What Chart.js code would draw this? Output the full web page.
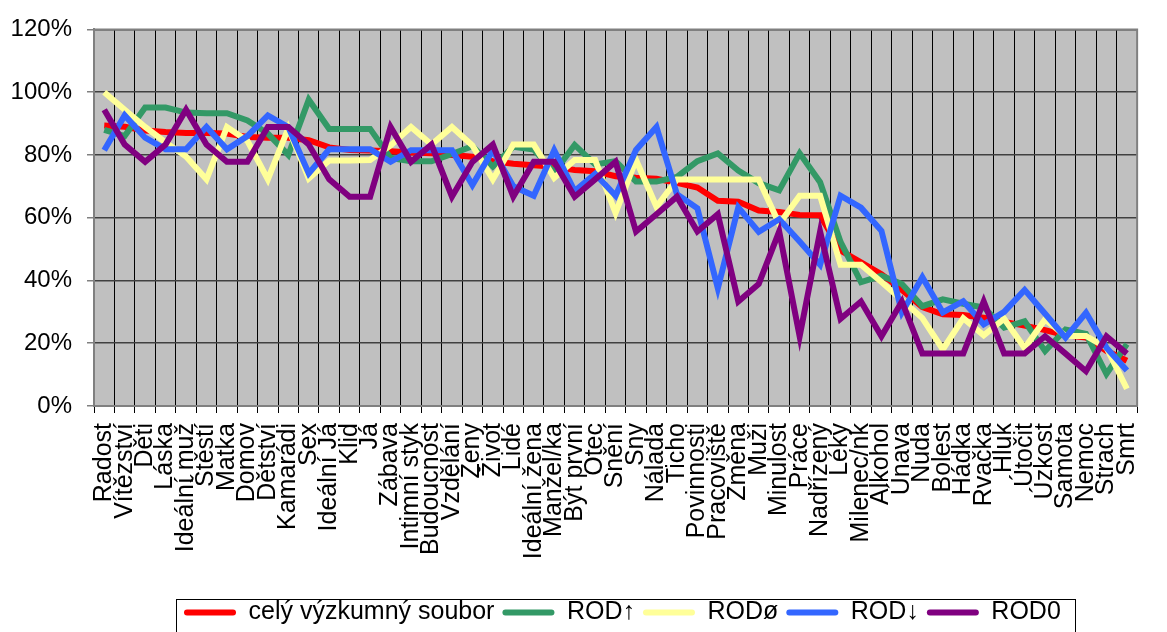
<!DOCTYPE html>
<html>
<head>
<meta charset="utf-8">
<title>ROD</title>
<script src="https://cdn.jsdelivr.net/npm/chart.js@4/dist/chart.umd.min.js"></script>
<style>
  html, body { margin: 0; padding: 0; background: #ffffff; }
  #wrap { width: 1167px; height: 632px; }
</style>
</head>
<body>
<div id="wrap"><canvas id="chart" width="1167" height="632"></canvas></div>
<script>
// Word categories along the x axis
const categories = ['Radost','Vítězství','Děti','Láska','Ideální muž','Štěstí','Matka','Domov','Dětství','Kamarádi',
  'Sex','Ideální Já','Klid','Já','Zábava','Intimní styk','Budoucnost','Vzdělání','Ženy','Život',
  'Lidé','Ideální žena','Manžel/ka','Být první','Otec','Snění','Sny','Nálada','Ticho','Povinnosti',
  'Pracoviště','Změna','Muži','Minulost','Práce','Nadřízený','Léky','Milenec/nk','Alkohol','Únava',
  'Nuda','Bolest','Hádka','Rvačka','Hluk','Útočit','Úzkost','Samota','Nemoc','Strach','Smrt'];

// Series values in percent
const celySoubor = [89.4, 89.0, 87.8, 87.3, 87.0, 87.0, 86.8, 85.7, 85.5, 85.5,
  84.7, 82.4, 81.6, 81.4, 81.2, 80.8, 80.5, 80.0, 79.4, 78.0,
  77.2, 76.7, 76.2, 75.2, 74.8, 73.2, 72.7, 72.4, 71.1, 69.6,
  65.4, 65.1, 62.3, 61.8, 60.9, 60.8, 49.5, 45.8, 42.0, 37.0,
  31.5, 29.2, 29.0, 28.1, 26.8, 25.6, 24.2, 22.5, 21.8, 17.6, 14.4];

const rodUp = [88.0, 86.0, 95.1, 95.1, 93.5, 93.3, 93.3, 91.0, 86.8, 80.0,
  97.6, 88.3, 88.3, 88.3, 79.0, 78.0, 78.0, 80.3, 82.8, 76.3,
  82.6, 81.7, 74.5, 83.2, 77.0, 78.0, 71.5, 71.5, 73.0, 78.0,
  80.5, 75.0, 71.0, 68.7, 80.5, 71.3, 52.3, 39.5, 41.5, 38.9,
  31.8, 34.0, 32.6, 31.4, 25.0, 27.0, 17.5, 24.4, 23.0, 10.2, 19.7];

const rodEq = [100, 94.4, 88.9, 84.0, 79.5, 72.2, 88.9, 84.5, 72.2, 88.5,
  72.5, 78.2, 78.2, 78.4, 83.0, 88.9, 83.3, 88.9, 83.0, 72.2,
  83.3, 83.3, 72.7, 78.4, 78.4, 61.5, 78.4, 63.5, 72.2, 72.2,
  72.2, 72.2, 72.2, 58.0, 67.0, 67.0, 45.0, 45.0, 39.5, 33.8,
  28.0, 18.0, 28.0, 22.5, 27.8, 18.5, 27.6, 22.3, 22.3, 18.6, 5.5];

const rodDown = [81.5, 92.6, 85.5, 81.8, 81.8, 88.9, 81.8, 86.0, 92.6, 88.9,
  74.1, 81.8, 81.8, 81.8, 77.8, 81.5, 81.5, 81.5, 70.4, 81.5,
  70.0, 67.0, 81.5, 68.5, 74.0, 67.0, 81.6, 88.9, 67.5, 63.0,
  37.5, 63.3, 55.5, 59.5, 52.4, 45.0, 67.0, 63.2, 55.8, 29.8,
  41.0, 29.8, 33.4, 26.0, 30.0, 37.0, 29.4, 21.8, 29.7, 18.6, 11.3];

const rod0 = [94.4, 83.3, 77.8, 83.3, 94.4, 83.3, 77.8, 77.8, 88.9, 88.9,
  83.3, 72.2, 66.7, 66.7, 88.9, 77.8, 83.3, 66.7, 77.8, 83.3,
  66.7, 77.8, 77.8, 66.7, 72.2, 77.8, 55.6, 61.1, 66.7, 55.6,
  61.1, 33.3, 38.9, 55.6, 22.2, 55.6, 27.8, 33.3, 22.2, 33.3,
  16.7, 16.7, 16.7, 33.3, 16.7, 16.7, 22.2, 16.7, 11.1, 22.2, 16.7];

const seriesNames = ['celý výzkumný soubor', 'ROD↑', 'RODø', 'ROD↓', 'ROD0'];
const yTicks = [0, 20, 40, 60, 80, 100, 120];

const FONT = '"Liberation Sans", Arial, sans-serif';
const colors = ['#ff0000', '#339966', '#ffff99', '#3366ff', '#800080'];
const seriesData = [celySoubor, rodUp, rodEq, rodDown, rod0];

// Grey plot background, frame and the boxed legend
const plotFrame = {
  id: 'plotFrame',
  afterLayout(chart) {
    const lg = chart.legend;
    if (!lg || !lg.lineWidths) return;
    const pad = lg.options.labels.padding;
    const cur = (lg.left + pad + lg.right - lg.lineWidths[0]) / 2;
    const shift = 184 - cur;
    lg.left += shift;
    lg.right += shift;
  },
  beforeDraw(chart) {
    const { ctx, chartArea: a } = chart;
    ctx.save();
    ctx.fillStyle = '#c0c0c0';
    ctx.fillRect(a.left, a.top, a.right - a.left, a.bottom - a.top);
    ctx.restore();
  },
  afterDraw(chart) {
    const { ctx, chartArea: a } = chart;
    ctx.save();
    ctx.strokeStyle = '#808080';
    ctx.lineWidth = 2;
    ctx.beginPath();
    ctx.moveTo(a.left, a.top);
    ctx.lineTo(a.right, a.top);
    ctx.lineTo(a.right, a.bottom);
    ctx.stroke();

    const lg = chart.legend;
    if (lg && lg.lineWidths) {
      const pad = lg.options.labels.padding;
      const start = (lg.left + pad + lg.right - lg.lineWidths[0]) / 2;
      const right = start + lg.lineWidths[0] - pad + 14;
      const left = start - 8;
      const itemH = Math.max(lg.options.labels.font.size, lg.options.labels.boxHeight);
      const centerY = lg.top + pad + itemH / 2;
      ctx.strokeStyle = '#000000';
      ctx.lineWidth = 1;
      ctx.strokeRect(Math.round(left) + 0.5, Math.round(centerY - 14) + 0.5, Math.round(right - left), 80);
    }
    ctx.restore();
  }
};

const datasets = seriesNames.map((name, i) => ({
  label: name,
  data: seriesData[i],
  borderColor: colors[i],
  backgroundColor: colors[i],
  borderWidth: 6,
  pointRadius: 0,
  pointHoverRadius: 0,
  tension: 0,
  fill: false,
  order: seriesNames.length - i
}));

new Chart(document.getElementById('chart'), {
  type: 'line',
  data: { labels: categories, datasets },
  plugins: [plotFrame],
  options: {
    responsive: false,
    animation: false,
    devicePixelRatio: 1,
    layout: { padding: { left: 0, right: 10, top: 24, bottom: -3 } },
    plugins: {
      tooltip: { enabled: false },
      legend: {
        position: 'bottom',
        labels: {
          boxWidth: 52,
          boxHeight: 6,
          padding: 8,
          useBorderRadius: true,
          borderRadius: 3,
          color: '#000000',
          font: { family: FONT, size: 25 },
          generateLabels: (chart) => chart.data.datasets.map((ds, i) => ({
            text: ds.label,
            fillStyle: ds.borderColor,
            strokeStyle: ds.borderColor,
            lineWidth: 0,
            hidden: false,
            datasetIndex: i,
            borderRadius: 3,
            fontColor: '#000000'
          }))
        }
      }
    },
    scales: {
      x: {
        type: 'category',
        offset: true,
        afterFit: (scale) => { scale.height = 186; },
        grid: {
          offset: true,
          color: '#000000',
          lineWidth: 1,
          drawTicks: true,
          tickLength: 7,
          tickColor: '#000000'
        },
        border: { display: true, color: '#808080', width: 2 },
        ticks: {
          autoSkip: false,
          minRotation: 90,
          maxRotation: 90,
          padding: 10,
          color: '#000000',
          font: { family: FONT, size: 25 }
        }
      },
      y: {
        min: 0,
        max: 120,
        afterFit: (scale) => { scale.width = 94; },
        afterBuildTicks: (scale) => { scale.ticks = yTicks.map(v => ({ value: v })); },
        grid: {
          color: '#404040',
          lineWidth: 1.5,
          drawTicks: true,
          tickLength: 7,
          tickColor: '#808080'
        },
        border: { display: true, color: '#808080', width: 2 },
        ticks: {
          padding: 15,
          color: '#000000',
          font: { family: FONT, size: 24 },
          callback: (v) => v + '%'
        }
      }
    }
  }
});
</script>
</body>
</html>
